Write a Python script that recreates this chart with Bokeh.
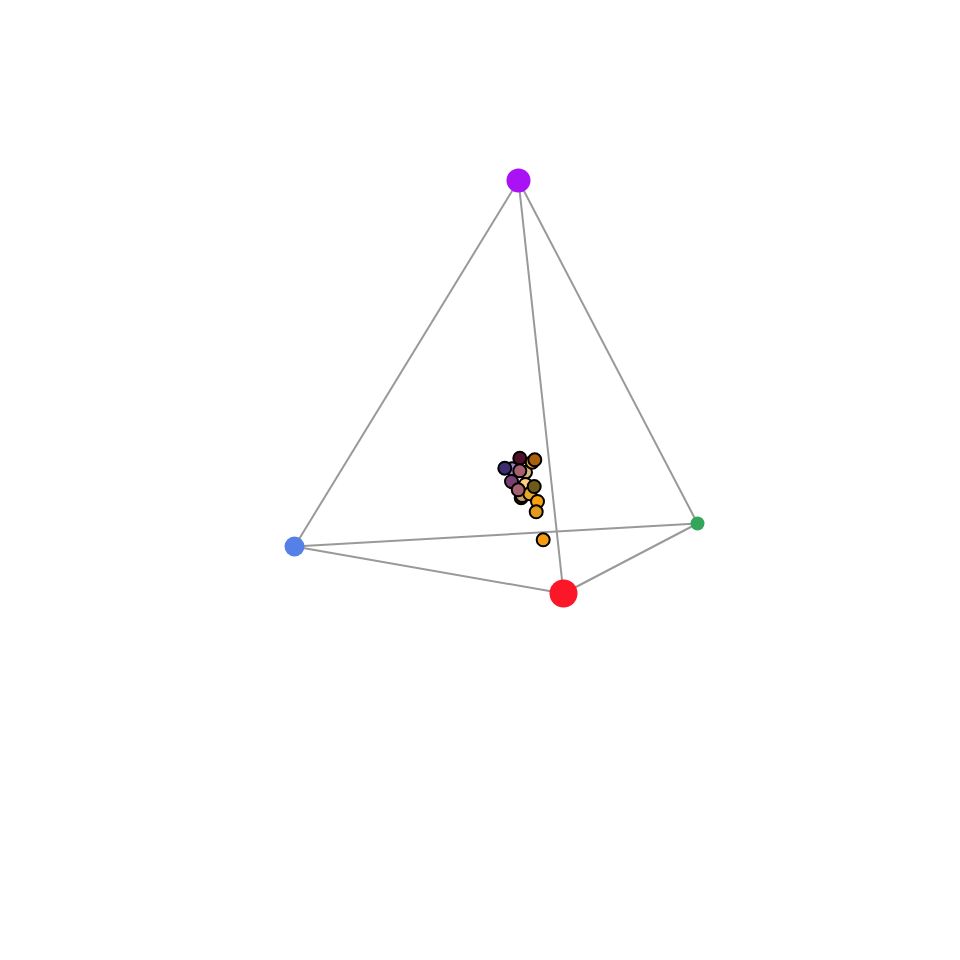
from bokeh.embed import file_html
from bokeh.models import Range1d
from bokeh.plotting import figure
from bokeh.resources import INLINE

# tetrahedron corners, projected screen coordinates
corner_names = ["top", "left", "right", "front"]
corner_x = [518, 294, 697, 563]
corner_y = [180, 546, 523, 593]
corner_colors = ["#aa11f5", "#5580e8", "#33a65c", "#fb1727"]
corner_sizes = [24, 20, 14, 28]

edges = [(0, 1), (0, 2), (0, 3), (1, 2), (1, 3), (3, 2)]

# samples inside the simplex, back to front
point_x = [511.7, 525.0, 531.7, 534.3, 504.3, 519.3, 519.3, 520.7, 521.7,
           525.0, 529.3, 533.7, 511.0, 517.7, 537.0, 535.7, 542.7]
point_y = [468.3, 471.7, 461.7, 459.3, 467.7, 457.7, 470.3, 497.3, 495.0,
           484.0, 493.3, 486.0, 481.0, 489.3, 501.0, 511.3, 539.3]
point_colors = ["#9a80c0", "#d8b878", "#f0a818", "#a8600c", "#3e2c70",
                "#4e1028", "#a86070", "#2e2418", "#c8a060", "#ffd080",
                "#e8a828", "#6e5a18", "#7a3f72", "#a46070", "#f7a20f",
                "#e39a1c", "#f59b12"]

p = figure(width=944, height=944, output_backend="svg", toolbar_location=None,
           x_range=Range1d(0, 944), y_range=Range1d(944, 0),
           min_border=0)
p.axis.visible = False
p.grid.visible = False
p.outline_line_color = None

for a, b in edges:
    p.line([corner_x[a], corner_x[b]], [corner_y[a], corner_y[b]],
           line_color="#999999", line_width=2)

p.scatter(corner_x, corner_y, size=corner_sizes, fill_color=corner_colors,
          line_color=None)

p.scatter(point_x, point_y, size=13, fill_color=point_colors,
          line_color="black", line_width=2)

open("out.html", "w").write(file_html(p, INLINE))
